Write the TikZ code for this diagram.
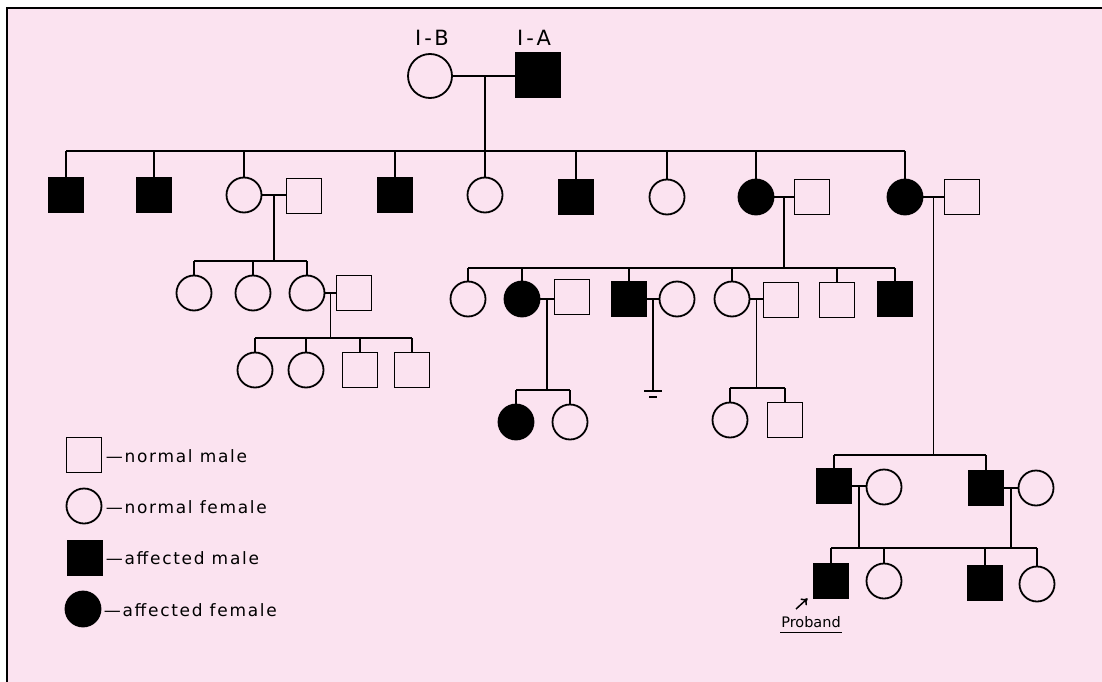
\documentclass[tikz,border=0pt]{standalone}
\usepackage{fontspec}
\setmainfont{DejaVu Sans}
\newfontfamily\legfont[LetterSpace=10]{DejaVu Sans}
\newfontfamily\genfont[LetterSpace=15]{DejaVu Sans}
\usetikzlibrary{arrows.meta,calc}
\definecolor{bgpink}{RGB}{251,227,240}
\begin{document}
\begin{tikzpicture}[x=1pt,y=-1pt,line width=1.8pt,
  msq/.style={draw,rectangle,minimum size=35pt,inner sep=0pt},
  fcir/.style={draw,circle,minimum size=35pt,inner sep=0pt},
  aff/.style={fill=black},
  legtext/.style={anchor=west,inner sep=0pt,font=\legfont\fontsize{17}{20}\selectfont},
  gentext/.style={inner sep=0pt,font=\genfont\fontsize{21}{24}\selectfont},
  pbtext/.style={inner sep=0pt,font=\fontsize{14.5}{17}\selectfont},
  arr/.style={-{To[length=6pt,width=9pt]},line width=1.5pt}]
\useasboundingbox (0,0) rectangle (1102,682);
\fill[white] (0,0) rectangle (1102,682);
\fill[bgpink] (7,8) rectangle (1102,682);
\draw[line width=2pt] (7,682) -- (7,8) -- (1102,8);

% ---------- Generation I ----------
\node[fcir,minimum size=44pt] (IB) at (430,76) {};
\node[msq,aff,minimum size=45pt] (IA) at (538,75) {};
\node[gentext] (lIB) at (432,38) {I-B};
\node[gentext] (lIA) at (534,38) {I-A};
\draw (IB.east) -- (IB.east -| IA.west);
\coordinate (mI) at ($(IB.east)!0.5!(IB.east -| IA.west)$);
\coordinate (s2) at (0,151);

% ---------- Generation II ----------
\node[msq,aff] (II1) at (66,195) {};
\node[msq,aff] (II2) at (154,195) {};
\node[fcir] (II3) at (244,195) {};
\node[msq] (II3h) at (304,196) {};
\node[msq,aff] (II4) at (395,195) {};
\node[fcir] (II5) at (485,195) {};
\node[msq,aff] (II6) at (576,197) {};
\node[fcir] (II7) at (667,197) {};
\node[fcir,aff] (II8) at (756,197) {};
\node[msq] (II8h) at (812,197) {};
\node[fcir,aff] (II9) at (905,197) {};
\node[msq] (II9h) at (962,197) {};

\draw (mI -| II5.north) -- (II5.north |- s2);
\draw (II1.north |- s2) -- (II9.north |- s2);
\foreach \c in {II1,II2,II3,II4,II5,II6,II7,II8,II9}
  \draw (\c.north) -- (\c.north |- s2);

\draw (II3.east) -- (II3.east -| II3h.west);
\coordinate (m3) at ($(II3.east)!0.5!(II3.east -| II3h.west)$);
\draw (II8.east) -- (II8.east -| II8h.west);
\coordinate (m8) at ($(II8.east)!0.5!(II8.east -| II8h.west)$);
\draw (II9.east) -- (II9.east -| II9h.west);
\coordinate (m9) at ($(II9.east)!0.5!(II9.east -| II9h.west)$);

% ---------- Generation III (left) ----------
\coordinate (s3L) at (0,261);
\node[fcir] (L1) at (194,293) {};
\node[fcir] (L2) at (253,293) {};
\node[fcir] (L3) at (307,293) {};
\node[msq] (L3h) at (354,293) {};
\draw (m3) -- (m3 |- s3L);
\draw (L1.north |- s3L) -- (L3.north |- s3L);
\foreach \c in {L1,L2,L3}
  \draw (\c.north) -- (\c.north |- s3L);
\draw (L3.east) -- (L3.east -| L3h.west);
\coordinate (mL3) at ($(L3.east)!0.5!(L3.east -| L3h.west)$);

% ---------- Generation IV (left) ----------
\coordinate (s4L) at (0,338);
\node[fcir] (LL1) at (255,370) {};
\node[fcir] (LL2) at (306,370) {};
\node[msq] (LL3) at (360,370) {};
\node[msq] (LL4) at (412,370) {};
\draw (mL3) -- (mL3 |- s4L);
\draw (LL1.north |- s4L) -- (LL4.north |- s4L);
\foreach \c in {LL1,LL2,LL3,LL4}
  \draw (\c.north) -- (\c.north |- s4L);

% ---------- Generation III (middle) ----------
\coordinate (s3M) at (0,268);
\node[fcir] (Ma) at (468,299) {};
\node[fcir,aff] (Mb) at (522,299) {};
\node[msq] (Mbh) at (572,297) {};
\node[msq,aff] (Mc) at (629,299) {};
\node[fcir] (Mcw) at (677,299) {};
\node[fcir] (Md) at (732,299) {};
\node[msq] (Mdh) at (781,300) {};
\node[msq] (Me) at (837,300) {};
\node[msq,aff] (Mf) at (895,299) {};
\draw (m8) -- (m8 |- s3M);
\draw (Ma.north |- s3M) -- (Mf.north |- s3M);
\foreach \c in {Ma,Mb,Mc,Md,Me,Mf}
  \draw (\c.north) -- (\c.north |- s3M);

\draw (Mb.east) -- (Mb.east -| Mbh.west);
\coordinate (mb) at ($(Mb.east)!0.5!(Mb.east -| Mbh.west)$);
\draw (Mc.east) -- (Mc.east -| Mcw.west);
\coordinate (mc) at ($(Mc.east)!0.5!(Mc.east -| Mcw.west)$);
\draw (Md.east) -- (Md.east -| Mdh.west);
\coordinate (md) at ($(Md.east)!0.5!(Md.east -| Mdh.west)$);

% ---------- Generation IV (middle) ----------
\coordinate (s4b) at (0,390);
\node[fcir,aff] (Bb1) at (516,422) {};
\node[fcir] (Bb2) at (570,422) {};
\draw (mb) -- (mb |- s4b);
\draw (Bb1.north |- s4b) -- (Bb2.north |- s4b);
\foreach \c in {Bb1,Bb2}
  \draw (\c.north) -- (\c.north |- s4b);

\coordinate (s4c) at (0,391);
\coordinate (nc) at (mc |- s4c);
\draw (mc) -- (nc);
\draw ($(nc)+(-9,0)$) -- ($(nc)+(9,0)$);
\draw[line width=1.5pt] ($(nc)+(-4,6)$) -- ($(nc)+(4,6)$);

\coordinate (s4d) at (0,388);
\node[fcir] (Dd1) at (730,420) {};
\node[msq] (Dd2) at (785,420) {};
\draw (md) -- (md |- s4d);
\draw (Dd1.north |- s4d) -- (Dd2.north |- s4d);
\foreach \c in {Dd1,Dd2}
  \draw (\c.north) -- (\c.north |- s4d);

% ---------- Right branch ----------
\coordinate (s3R) at (0,455);
\node[msq,aff] (R1) at (834,486) {};
\node[fcir] (R1w) at (884,487) {};
\node[msq,aff] (R2) at (986,488) {};
\node[fcir] (R2w) at (1036,488) {};
\draw (m9) -- (m9 |- s3R);
\draw (R1.north |- s3R) -- (R2.north |- s3R);
\foreach \c in {R1,R2}
  \draw (\c.north) -- (\c.north |- s3R);
\draw (R1.east) -- (R1.east -| R1w.west);
\coordinate (mr1) at ($(R1.east)!0.5!(R1.east -| R1w.west)$);
\draw (R2.east) -- (R2.east -| R2w.west);
\coordinate (mr2) at ($(R2.east)!0.5!(R2.east -| R2w.west)$);

\coordinate (s5) at (0,548);
\node[msq,aff] (V1) at (831,581) {};
\node[fcir] (V2) at (884,581) {};
\node[msq,aff] (V3) at (985,583) {};
\node[fcir] (V4) at (1037,584) {};
\draw (mr1) -- (mr1 |- s5);
\draw (mr2) -- (mr2 |- s5);
\draw (V1.north |- s5) -- (V4.north |- s5);
\foreach \c in {V1,V2,V3,V4}
  \draw (\c.north) -- (\c.north |- s5);

% Proband
\node[pbtext] (pb) at (811,622) {Proband};
\draw[line width=1.4pt] ($(pb.south west)+(0,4)$) -- ($(pb.south east)+(0,4)$);
\coordinate (arrS) at (796,609);
\draw[arr] (arrS) -- ($(V1.south west)+(-5,-1)$);

% ---------- Legend ----------
\node[msq] (k1) at (84,455) {};
\node[fcir] (k2) at (84,506) {};
\node[msq,aff] (k3) at (85,558) {};
\node[fcir,aff] (k4) at (83,609) {};
\node[legtext] (t1) at (105,456) {—normal male};
\node[legtext] (t2) at (105,507) {—normal female};
\node[legtext] (t3) at (105,558) {—affected male};
\node[legtext] (t4) at (103,610) {—affected female};
\end{tikzpicture}
\end{document}
